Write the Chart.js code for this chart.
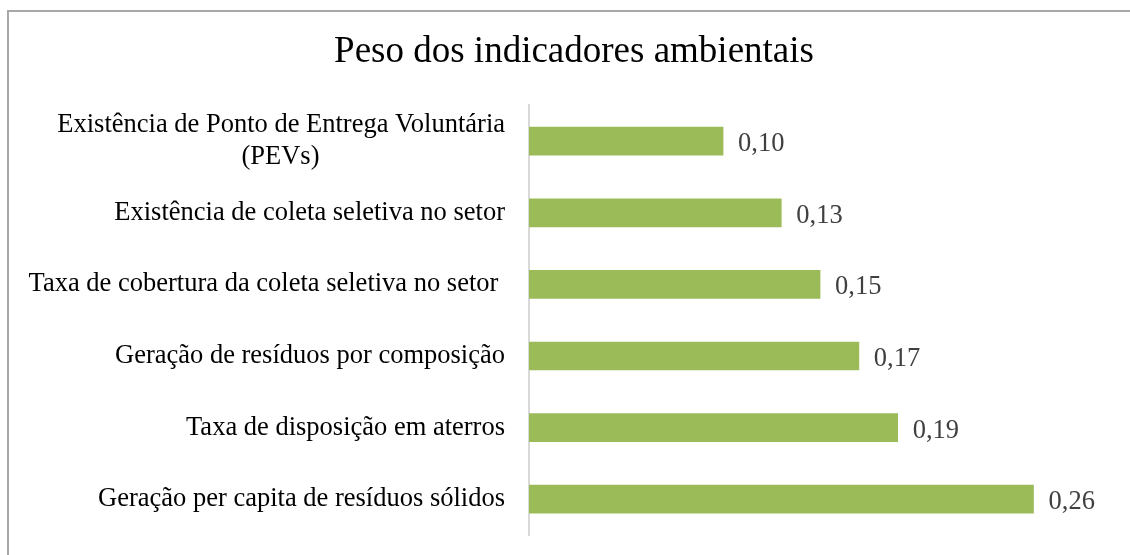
<!DOCTYPE html>
<html>
<head>
<meta charset="utf-8">
<script src="https://cdn.jsdelivr.net/npm/chart.js@4"></script>
<style>
  html, body { margin: 0; background: #fff; overflow: hidden; }
  #frame { position: absolute; left: 7px; top: 10px; width: 1200px; height: 600px;
           border-left: 2px solid #a8a8a8; border-top: 2px solid #a8a8a8; }
  #chart { position: absolute; left: 0; top: 0; }
</style>
</head>
<body>
<div id="frame"></div>
<!-- canvas a bit wider than the window: the excel chart area runs past the right edge -->
<canvas id="chart" width="1148" height="555"></canvas>
<script>
// categories, top to bottom
const categories = [
  ['Existência de Ponto de Entrega Voluntária', '(PEVs)' + ' '.repeat(28)],
  'Existência de coleta seletiva no setor',
  'Taxa de cobertura da coleta seletiva no setor ',
  'Geração de resíduos por composição',
  'Taxa de disposição em aterros',
  'Geração per capita de resíduos sólidos'
];
const weights = [0.10, 0.13, 0.15, 0.17, 0.19, 0.26];

const serif = '"Liberation Serif", "Times New Roman", serif';

// draws the value next to each bar, like excel data labels
const valueLabels = {
  id: 'valueLabels',
  afterDatasetsDraw(chart) {
    const ctx = chart.ctx;
    const meta = chart.getDatasetMeta(0);
    ctx.save();
    ctx.font = '26.5px ' + serif;
    ctx.fillStyle = '#404040';
    ctx.textAlign = 'left';
    ctx.textBaseline = 'middle';
    meta.data.forEach((bar, i) => {
      const txt = weights[i].toFixed(2).replace('.', ',');
      ctx.fillText(txt, bar.x + 15, bar.y + 3);
    });
    ctx.restore();
  }
};

new Chart(document.getElementById('chart'), {
  type: 'bar',
  data: {
    labels: categories,
    datasets: [{
      data: weights,
      backgroundColor: '#9bbb59',
      barThickness: 28
    }]
  },
  options: {
    indexAxis: 'y',
    responsive: false,
    animation: false,
    layout: { padding: { top: 0, right: 0, bottom: 20, left: 0 } },
    plugins: {
      legend: { display: false },
      tooltip: { enabled: false },
      title: {
        display: true,
        text: 'Peso dos indicadores ambientais',
        color: '#000',
        font: { family: serif, size: 37, weight: 'normal', lineHeight: 1.2 },
        padding: { top: 30, bottom: 31 }
      }
    },
    scales: {
      x: { display: false, min: 0, max: 0.319 },
      y: {
        grid: { display: false, drawTicks: false },
        border: { display: true, color: '#d9d9d9', width: 2 },
        ticks: {
          color: '#000',
          padding: 24,
          font: { family: serif, size: 26.5, lineHeight: 1.2 }
        },
        afterFit(scale) {
          scale.width = 529;
          scale.paddingTop = 0;
          scale.paddingBottom = 0;
        }
      }
    }
  },
  plugins: [valueLabels]
});
</script>
</body>
</html>
